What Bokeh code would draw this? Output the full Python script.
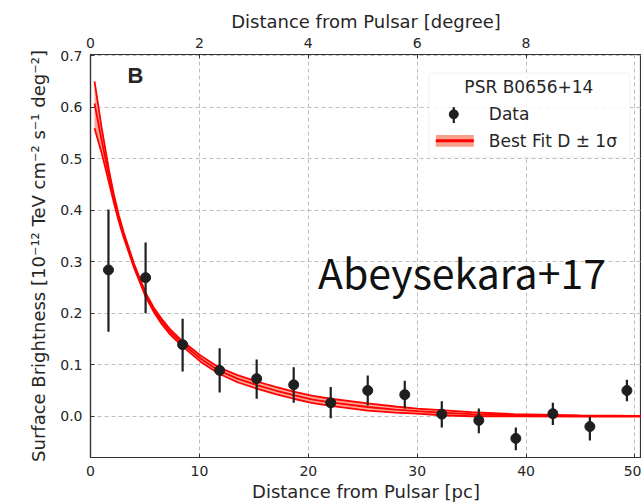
from bokeh.plotting import figure
from bokeh.models import (Range1d, LinearAxis, FixedTicker, Label, BoxAnnotation,
                          ColumnDataSource, NumeralTickFormatter)
from bokeh.embed import file_html
from bokeh.resources import INLINE

# ---------------- data ----------------
dist_pc = [1.65, 5.06, 8.46, 11.86, 15.26, 18.66, 22.06, 25.46, 28.86, 32.26,
           35.66, 39.06, 42.46, 45.86, 49.26]
brightness = [0.284, 0.269, 0.139, 0.089, 0.073, 0.061, 0.026, 0.050, 0.042, 0.004,
              -0.008, -0.043, 0.005, -0.020, 0.050]
err_low = [0.164, 0.200, 0.087, 0.046, 0.034, 0.026, -0.004, 0.021, 0.015, -0.022,
           -0.033, -0.066, -0.017, -0.047, 0.029]
err_high = [0.401, 0.337, 0.189, 0.132, 0.110, 0.095, 0.057, 0.079, 0.069, 0.029,
            0.015, -0.022, 0.026, -0.001, 0.071]

fit_x = [0.37, 1.0, 1.7, 2.14, 2.6, 3.06, 4.0, 5.06, 5.8, 6.5, 7.3, 8.27, 10.1,
         11.76, 13.5, 15.35, 17.0, 18.66, 20.3, 22.06, 25.46, 28.0, 30.0, 32.2,
         35.0, 38.9, 45.0, 50.6]
fit_mid = [0.607, 0.538, 0.465, 0.423, 0.384, 0.351, 0.292, 0.236, 0.207, 0.185,
           0.164, 0.144, 0.112, 0.089, 0.073, 0.060, 0.050, 0.041, 0.033, 0.027,
           0.018, 0.013, 0.010, 0.007, 0.004, 0.002, 0.0005, 0.0001]
fit_upper = [0.650, 0.563, 0.477, 0.431, 0.390, 0.356, 0.296, 0.240, 0.211, 0.190,
             0.169, 0.149, 0.118, 0.095, 0.080, 0.067, 0.057, 0.048, 0.040, 0.034,
             0.025, 0.019, 0.015, 0.012, 0.008, 0.004, 0.0015, 0.0006]
fit_lower = [0.559, 0.513, 0.453, 0.415, 0.378, 0.346, 0.288, 0.232, 0.203, 0.180,
             0.159, 0.139, 0.106, 0.083, 0.066, 0.053, 0.043, 0.034, 0.026, 0.020,
             0.011, 0.007, 0.005, 0.002, 0.000, 0.000, -0.0005, -0.0004]

x_ticks_pc = [0, 10, 20, 30, 40, 50]
x_ticks_deg = [0, 2, 4, 6, 8]
y_ticks = [0.0, 0.1, 0.2, 0.3, 0.4, 0.5, 0.6, 0.7]

pc_per_degree = 5.0
x_max_pc = 50.6

legend_title = "PSR B0656+14"
legend_data = "Data"
legend_fit = "Best Fit D \u00b1 1\u03c3"
panel_letter = "B"
citation = "Abeysekara+17"

TXT = "#262626"
FONT = "DejaVu Sans"

# ---------------- figure ----------------
p = figure(width=641, height=504, output_backend="svg", toolbar_location=None,
           x_range=Range1d(0, x_max_pc), y_range=Range1d(-0.08, 0.702),
           min_border_left=90, min_border_right=0, min_border_top=54,
           min_border_bottom=45)
p.background_fill_color = "white"
p.border_fill_color = "white"
p.outline_line_color = "#333333"
p.outline_line_width = 1.2

bottom_axis = p.below[0]
left_axis = p.left[0]

p.extra_x_ranges = {"deg": Range1d(0, x_max_pc / pc_per_degree)}
top_axis = LinearAxis(x_range_name="deg")
p.add_layout(top_axis, "above")

for ax in [bottom_axis, left_axis, top_axis]:
    ax.axis_line_color = "#333333"
    ax.axis_line_width = 1.2
    ax.major_tick_in = 4
    ax.major_tick_out = 0
    ax.major_tick_line_color = "#333333"
    ax.minor_tick_line_color = None
    ax.major_label_text_font = FONT
    ax.major_label_text_font_size = "14px"
    ax.major_label_text_color = TXT
    ax.axis_label_text_font = FONT
    ax.axis_label_text_font_size = "18px"
    ax.axis_label_text_font_style = "normal"
    ax.axis_label_text_color = TXT

bottom_axis.ticker = FixedTicker(ticks=x_ticks_pc)
bottom_axis.axis_label = "Distance from Pulsar [pc]"
bottom_axis.major_label_standoff = 8
bottom_axis.axis_label_standoff = 2
top_axis.ticker = FixedTicker(ticks=x_ticks_deg)
top_axis.axis_label = "Distance from Pulsar [degree]"
top_axis.major_label_standoff = 7
top_axis.axis_label_standoff = 3
left_axis.ticker = FixedTicker(ticks=y_ticks)
left_axis.formatter = NumeralTickFormatter(format="0.0")
left_axis.axis_label = ("Surface Brightness [10\u207b\u00b9\u00b2 TeV cm\u207b\u00b2 "
                        "s\u207b\u00b9 deg\u207b\u00b2]")
left_axis.major_label_standoff = 8
left_axis.axis_label_standoff = 8

for g in [p.xgrid[0], p.ygrid[0]]:
    g.grid_line_color = "#bdbdbd"
    g.grid_line_dash = "4 3"
    g.grid_line_width = 1
p.xgrid[0].ticker = FixedTicker(ticks=x_ticks_pc)
p.ygrid[0].ticker = FixedTicker(ticks=y_ticks)

# ---------------- best fit band ----------------
fit_src = ColumnDataSource(dict(x=fit_x, mid=fit_mid, up=fit_upper, lo=fit_lower))
p.varea(x="x", y1="lo", y2="up", source=fit_src, fill_color="#f8907c", fill_alpha=0.8)
for col in ["up", "lo", "mid"]:
    p.line(x="x", y=col, source=fit_src, line_color="#ff0000", line_width=1.8)

# ---------------- data ----------------
dat_src = ColumnDataSource(dict(x=dist_pc, y=brightness, lo=err_low, hi=err_high))
p.segment(x0="x", y0="lo", x1="x", y1="hi", source=dat_src, line_color="#1f1f1f",
          line_width=2.2)
p.scatter(x="x", y="y", source=dat_src, size=10, fill_color="#1f1f1f",
          line_color="#1f1f1f", marker="circle")

# ---------------- texts ----------------
p.add_layout(Label(x=3.4, y=0.662, text=panel_letter, text_font="Liberation Sans",
                   text_font_style="bold", text_font_size="22px", text_color=TXT,
                   text_baseline="alphabetic"))
p.add_layout(Label(x=20.9, y=0.282, text=citation, text_font="Noto Sans CJK JP",
                   text_font_size="41px", text_color="#111111",
                   text_baseline="alphabetic"))

# ---------------- hand-made legend ----------------
p.add_layout(BoxAnnotation(left=31.07, right=49.54, top=0.666, bottom=0.503,
                           fill_color="white", fill_alpha=0.85,
                           line_color="#d0d0d0", line_width=1, border_radius=4))
p.add_layout(Label(x=40.26, y=0.638, text=legend_title, text_font=FONT,
                   text_font_size="17px", text_color=TXT, text_align="center",
                   text_baseline="middle"))
p.add_layout(Label(x=36.58, y=0.586, text=legend_data, text_font=FONT,
                   text_font_size="17px", text_color=TXT, text_baseline="middle"))
p.add_layout(Label(x=36.58, y=0.534, text=legend_fit, text_font=FONT,
                   text_font_size="17px", text_color=TXT, text_baseline="middle"))
lg1 = p.quad(left=[31.71], right=[35.2], top=[0.546], bottom=[0.523],
             fill_color="#f8a08a", line_color=None)
lg2 = p.segment(x0=[31.71], y0=[0.5345], x1=[35.2], y1=[0.5345], line_color="#ff0000",
                line_width=3)
lg3 = p.segment(x0=[33.36], y0=[0.569], x1=[33.36], y1=[0.600], line_color="#1f1f1f",
                line_width=2.2)
lg4 = p.scatter(x=[33.36], y=[0.586], size=9, fill_color="#1f1f1f",
                line_color="#1f1f1f", marker="circle")
for r in [lg1, lg2, lg3, lg4]:
    r.level = "overlay"

open("out.html", "w").write(file_html(p, INLINE))
